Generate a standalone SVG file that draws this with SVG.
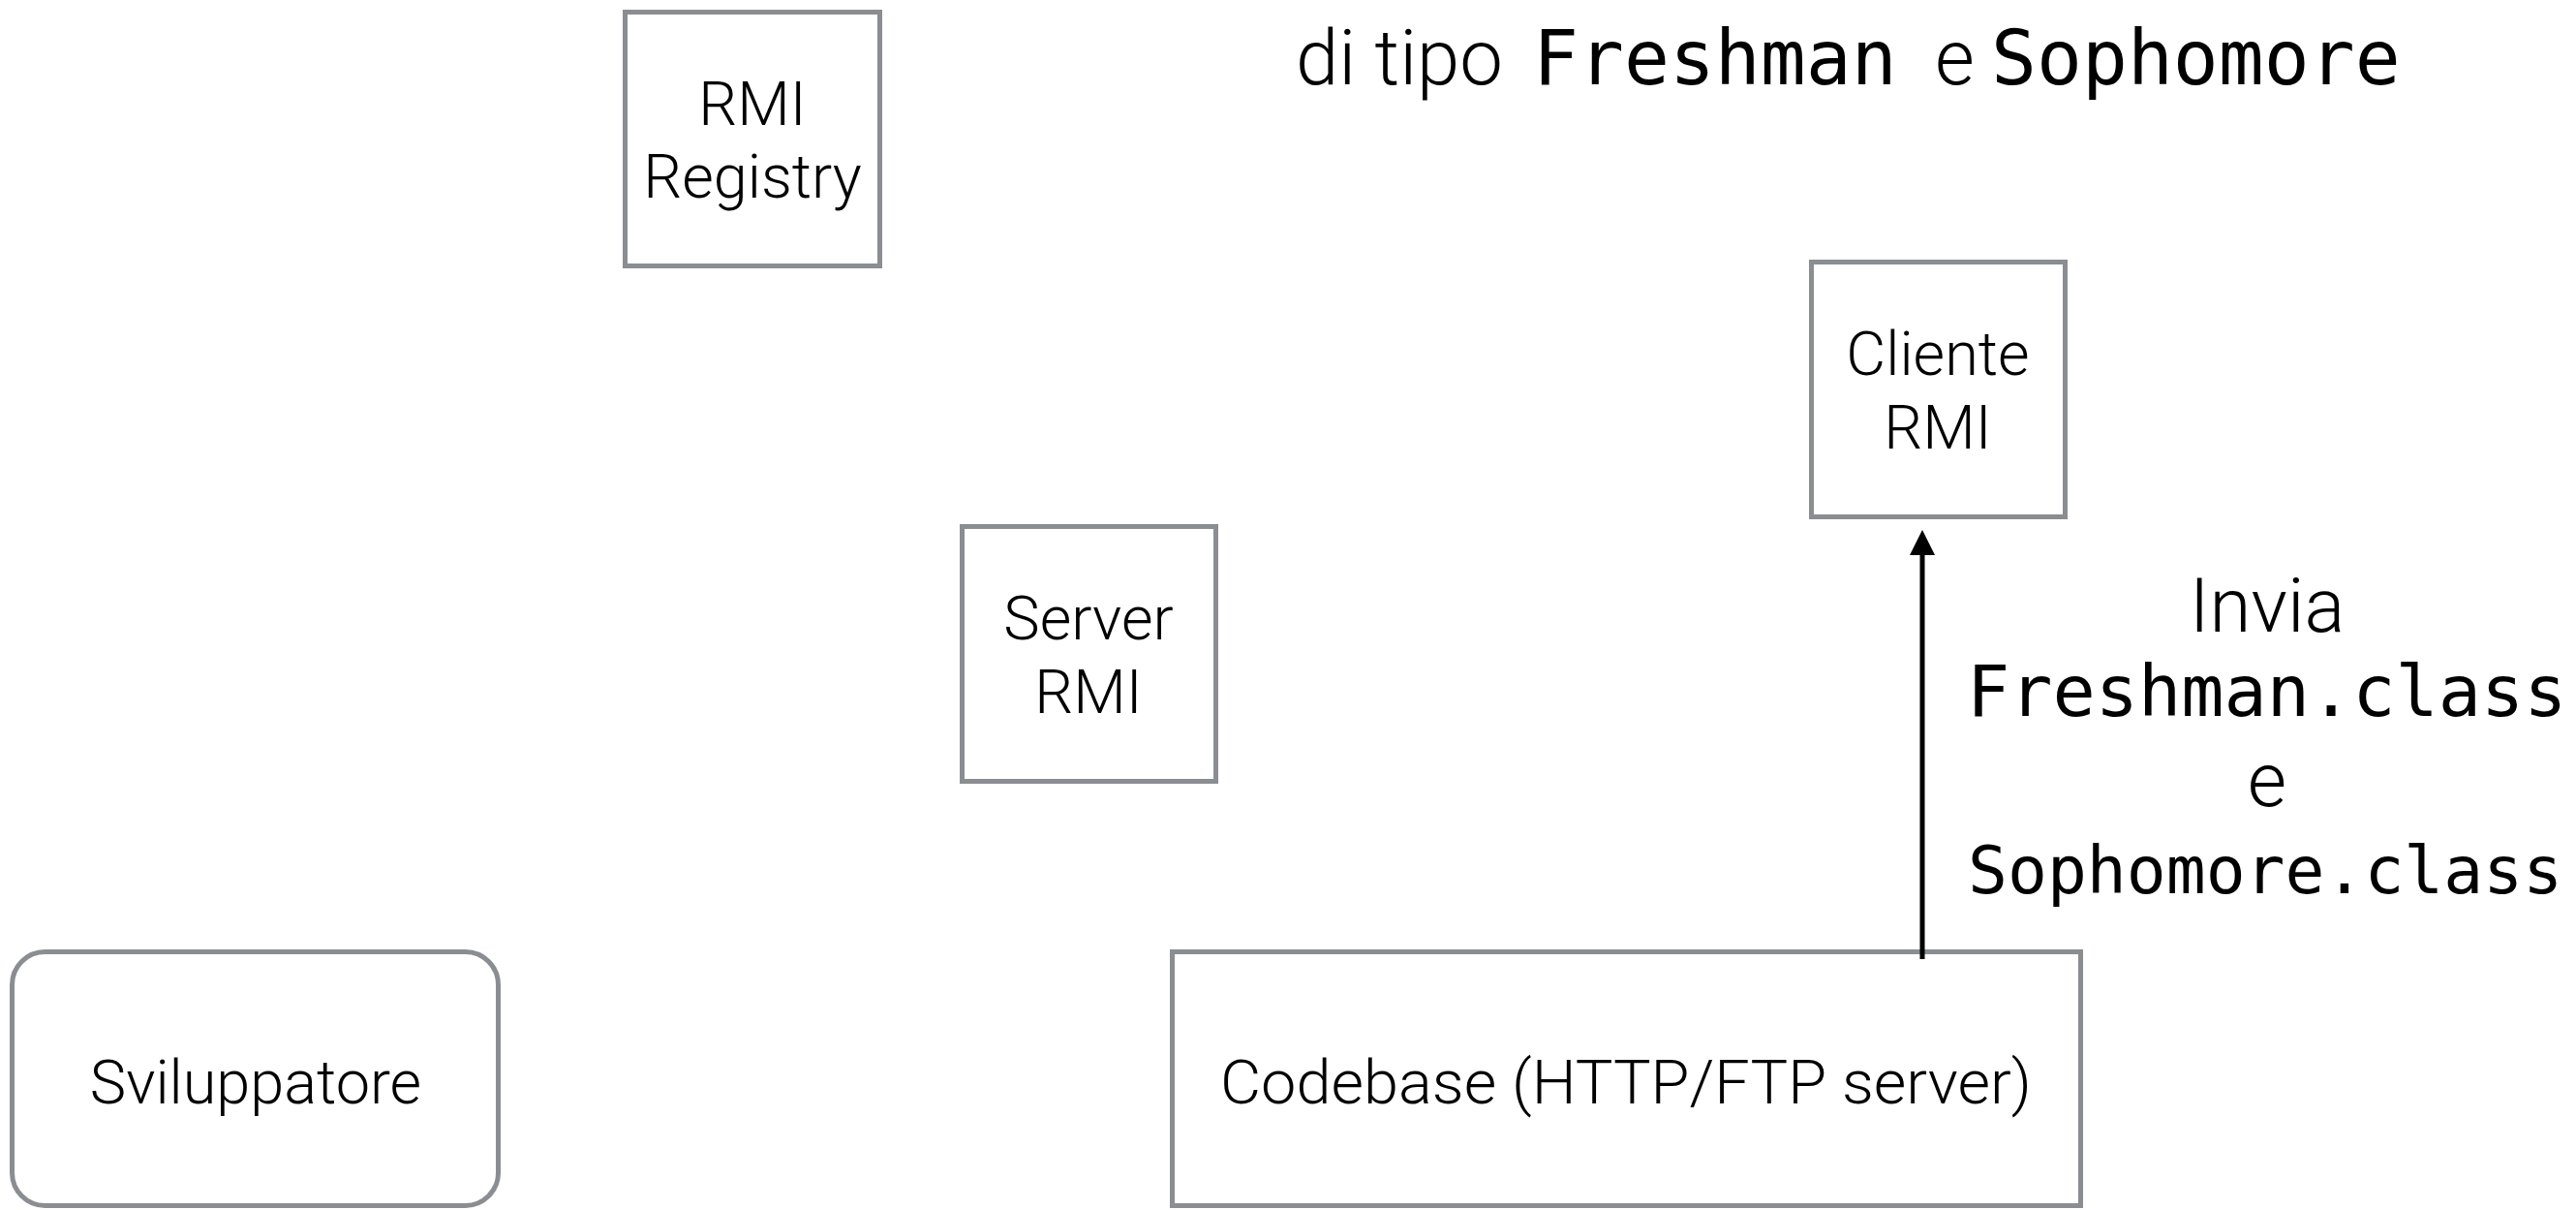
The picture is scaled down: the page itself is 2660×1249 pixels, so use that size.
<svg xmlns="http://www.w3.org/2000/svg" width="2660" height="1249" viewBox="0 0 2660 1249">
<style>
.box{fill:#fff;stroke:#8a8d91;stroke-width:5}
.lbl{font-family:Roboto,"Liberation Sans",Arial,sans-serif;font-weight:300;font-size:63px;fill:#000;text-anchor:middle}
.sans{font-family:Roboto,"Liberation Sans",Arial,sans-serif;font-weight:300;fill:#000}
.mono{font-family:"DejaVu Sans Mono","Liberation Mono",monospace;fill:#000}
.conn{stroke:#000;stroke-width:5;fill:none}
</style>
<defs>
<marker id="ah" viewBox="0 0 26 26" markerWidth="26" markerHeight="26" markerUnits="userSpaceOnUse" refX="0" refY="13" orient="auto">
<path d="M0,0 L26,13 L0,26 Z" fill="#000"/>
</marker>
</defs>
<rect width="2660" height="1249" fill="#fff"/>

<g id="title">
<text y="87" font-size="79"><tspan class="sans" x="1338" textLength="214" lengthAdjust="spacingAndGlyphs">di tipo</tspan><tspan class="mono" x="1583" font-size="78">Freshman</tspan><tspan class="sans" x="1998">e</tspan><tspan class="mono" x="2056" font-size="78">Sophomore</tspan></text>
</g>

<g id="rmi-registry">
<rect class="box" x="645.5" y="12.5" width="263" height="262"/>
<text class="lbl" x="777" y="129">RMI</text>
<text class="lbl" x="777" y="204">Registry</text>
</g>

<g id="cliente-rmi">
<rect class="box" x="1870.5" y="270.5" width="262" height="263"/>
<text class="lbl" x="2001" y="387">Cliente</text>
<text class="lbl" x="2001" y="463">RMI</text>
</g>

<g id="server-rmi">
<rect class="box" x="993.5" y="543.5" width="262" height="263"/>
<text class="lbl" x="1124" y="660">Server</text>
<text class="lbl" x="1124" y="736">RMI</text>
</g>

<g id="sviluppatore">
<rect class="box" x="12.5" y="982.5" width="502" height="262" rx="34" ry="34"/>
<text class="lbl" x="264" y="1139">Sviluppatore</text>
</g>

<g id="codebase">
<rect class="box" x="1210.5" y="982.5" width="938" height="262"/>
<text class="lbl" x="1679" y="1139" textLength="838" lengthAdjust="spacingAndGlyphs">Codebase (HTTP/FTP server)</text>
</g>

<g id="connectors">
<line class="conn" x1="1985" y1="990" x2="1985" y2="573" marker-end="url(#ah)"/>
</g>

<g id="connector-label">
<text class="sans" x="2341" y="652" font-size="78" text-anchor="middle">Invia</text>
<text class="mono" x="2031" y="739" font-size="73.5">Freshman.class</text>
<text class="sans" x="2341" y="832" font-size="78" text-anchor="middle">e</text>
<text class="mono" x="2032" y="922" font-size="68">Sophomore.class</text>
</g>
</svg>
